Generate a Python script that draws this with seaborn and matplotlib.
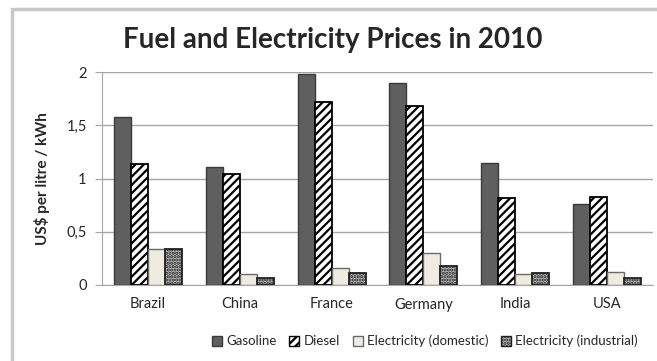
import matplotlib
matplotlib.use("Agg")
import matplotlib.pyplot as plt
import seaborn as sns
import pandas as pd
from matplotlib.patches import Rectangle, Patch
from matplotlib.ticker import FuncFormatter

countries = ["Brazil", "China", "France", "Germany", "India", "USA"]
series = ["Gasoline", "Diesel", "Electricity (domestic)", "Electricity (industrial)"]
gasoline = [1.58, 1.11, 1.98, 1.90, 1.15, 0.76]
diesel = [1.14, 1.04, 1.72, 1.68, 0.82, 0.83]
elec_domestic = [0.34, 0.10, 0.16, 0.30, 0.10, 0.12]
elec_industrial = [0.34, 0.07, 0.11, 0.18, 0.11, 0.07]
yticks = [0, 0.5, 1, 1.5, 2]

rows = []
for name, vals in zip(series, [gasoline, diesel, elec_domestic, elec_industrial]):
    for c, v in zip(countries, vals):
        rows.append({"Country": c, "Series": name, "Value": v})
df = pd.DataFrame(rows)

sns.set_style("white")
plt.rcParams["font.family"] = ["Lato", "DejaVu Sans"]
plt.rcParams["hatch.linewidth"] = 1.6

fig = plt.figure(figsize=(6.57, 3.61), dpi=100)
ax = fig.add_axes([102/657, 1-285/361, (653-102)/657, (285-72)/361])

styles = [
    dict(fc="#5f5f5f", ec="#3a3a3a", hatch=None, lw=1.0),
    dict(fc="white", ec="black", hatch="////", lw=1.3),
    dict(fc="#eeece1", ec="#6a6a6a", hatch=None, lw=1.0),
    dict(fc="#c4c4c4", ec="#202020", hatch=".....", lw=1.3),
]

sns.barplot(data=df, x="Country", y="Value", hue="Series", order=countries,
            hue_order=series, ax=ax, width=0.74, legend=False, errorbar=None,
            zorder=3)

for cont, st in zip(ax.containers, styles):
    for bar in cont:
        bar.set_facecolor(st["fc"])
        bar.set_edgecolor(st["ec"])
        bar.set_linewidth(st["lw"])
        if st["hatch"]:
            bar.set_hatch(st["hatch"])

ax.set_ylim(0, 2)
ax.set_yticks(yticks)
ax.yaxis.set_major_formatter(FuncFormatter(lambda v, p: ("%g" % v).replace(".", ",")))
ax.yaxis.grid(True, color="#a6a6a6", lw=1.0, zorder=0)
ax.set_axisbelow(True)
for s in ["top", "right"]:
    ax.spines[s].set_visible(False)
ax.spines["left"].set_color("#a6a6a6")
ax.spines["bottom"].set_color("#a6a6a6")
ax.tick_params(axis="y", length=5, color="#a6a6a6", labelsize=10.5, pad=6, left=True)
ax.tick_params(axis="x", length=0, labelsize=10.5, pad=9)
ax.set_xlabel("")
ax.set_ylabel("US$ per litre / kWh", fontsize=11, fontweight="bold", labelpad=12)

fig.text(333/657, 1-40/361, "Fuel and Electricity Prices in 2010", ha="center", va="center",
         fontsize=20, fontweight="bold")

handles = [Patch(facecolor=st["fc"], edgecolor=st["ec"], hatch=st["hatch"], lw=1.0) for st in styles]
fig.legend(handles, series, loc="center", bbox_to_anchor=(425/657, 1-341/361), ncol=4,
           frameon=False, fontsize=9.5, handlelength=0.75, handleheight=0.75,
           handletextpad=0.3, columnspacing=1.0)

fig.add_artist(Rectangle((11.5/657, -0.1), 1.2, 1-8.5/361+0.1, transform=fig.transFigure,
                         fill=False, ec="#c8c8c8", lw=2.5))

fig.savefig("out.png", dpi=100)
